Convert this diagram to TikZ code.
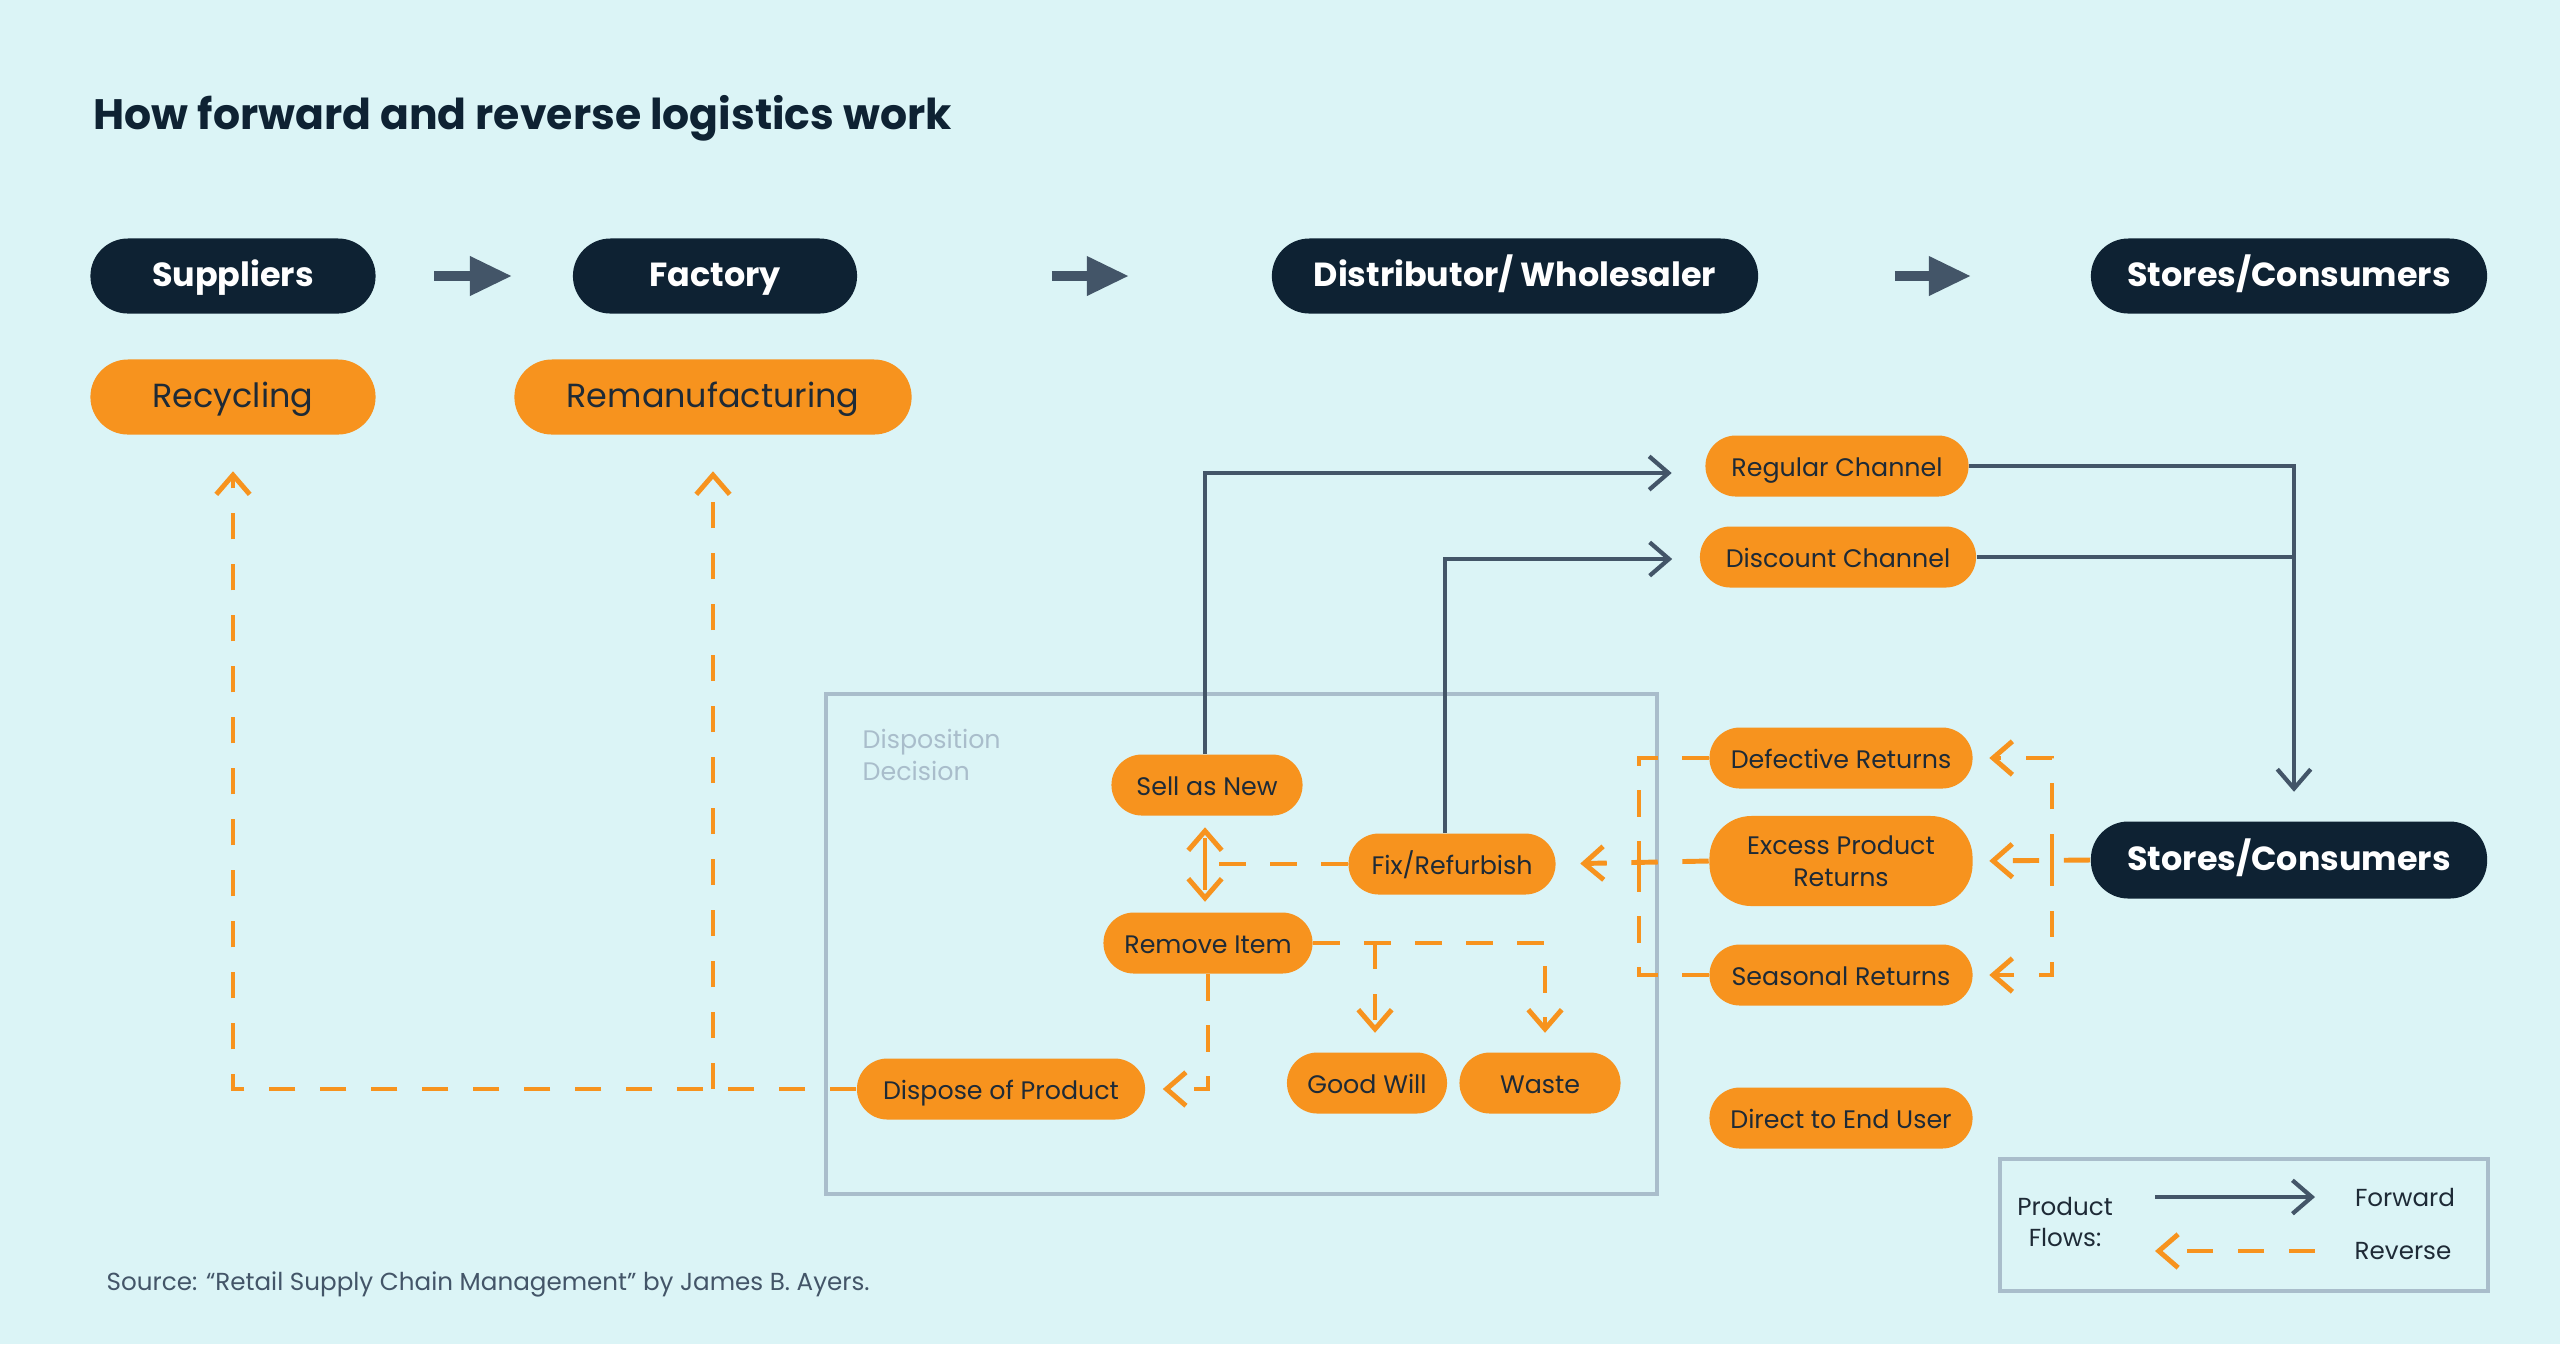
\documentclass[tikz,border=0pt]{standalone}
\usepackage{fontspec}
\setmainfont{Poppins}
\usetikzlibrary{arrows.meta}

\definecolor{Paper}{HTML}{DBF4F6}
\definecolor{Navy}{HTML}{0E2233}
\definecolor{Orange}{HTML}{F7931E}
\definecolor{Ink}{HTML}{1E2A36}
\definecolor{Slate}{HTML}{435568}
\definecolor{Frame}{HTML}{A9BDCB}

\tikzstyle{Head} = [fill=Navy, text=white,
                    rectangle, rounded corners=0.375cm,
                    minimum height=0.75cm, inner sep=0pt,
                    text height=0.75em, text depth=0.15em,
                    font=\fontsize{9.5}{11}\selectfont\bfseries]
\tikzstyle{Big} = [fill=Orange, text=Ink,
                   rectangle, rounded corners=0.375cm,
                   minimum height=0.75cm, inner sep=0pt,
                   text height=0.75em, text depth=0.15em,
                   font=\fontsize{9.5}{11}\selectfont]
\tikzstyle{Tag} = [fill=Orange, text=Ink,
                   rectangle, rounded corners=0.305cm,
                   minimum height=0.61cm, inner sep=0pt,
                   font=\fontsize{7.2}{9}\selectfont]
\tikzstyle{Pill} = [Tag, text height=0.75em, text depth=0.15em]
\tikzstyle{Flow} = [draw=Slate, line width=1.2pt]
\tikzstyle{Fwd} = [Flow, -{Straight Barb[length=5.5pt,width=9.5pt]}]
\tikzstyle{Rev} = [draw=Orange, line width=1.4pt, dash pattern=on 7.5pt off 7pt]
\tikzstyle{RevArrow} = [Rev, -{Straight Barb[length=5.5pt,width=9.5pt]}]
\tikzstyle{BigArrow} = [draw=Slate, line width=2.8pt,
                        -{Triangle[length=12pt,width=10.5pt]}]

\begin{document}
\begin{tikzpicture}[x=0.01cm, y=-0.01cm]

    \fill[Paper] (0, 0) rectangle (2560, 1344);
    \useasboundingbox (0, 0) rectangle (2560, 1344);

    \node(title) at (93, 129) [anchor=base west, inner sep=0pt, text=Navy,
        font=\fontsize{12.1}{14}\selectfont\bfseries]{How forward and reverse logistics work};

    % Forward chain
    \node (suppliers) at (233, 276) [Head, minimum width=2.85cm]{Suppliers};
    \node (factory) at (715, 276) [Head, minimum width=2.84cm]{Factory};
    \node (distributor) at (1515, 276) [Head, minimum width=4.86cm]{Distributor/ Wholesaler};
    \node (storesTop) at (2289, 276) [Head, minimum width=3.96cm]{Stores/Consumers};

    \node (recycling) at (233, 397) [Big, minimum width=2.85cm]{Recycling};
    \node (reman) at (713, 397) [Big, minimum width=3.97cm]{Remanufacturing};

    % Channels
    \node (regular) at (1837, 466) [Pill, minimum width=2.63cm]{Regular Channel};
    \node (discount) at (1838, 557) [Pill, minimum width=2.76cm]{Discount Channel};

    % Disposition decision
    \draw[Frame, line width=0.9pt] (826, 694) rectangle (1657, 1194);
    \node(dispLabel) at (862, 729) [anchor=north west, inner sep=0pt, align=left, text=Frame,
        font=\fontsize{7.2}{9}\selectfont]{Disposition\\Decision};
    \node (sellnew) at (1207, 785) [Pill, minimum width=1.91cm]{Sell as New};
    \node (fix) at (1452, 864) [Pill, minimum width=2.07cm]{Fix/Refurbish};
    \node (remove) at (1208, 943) [Pill, minimum width=2.09cm]{Remove Item};
    \node (dispose) at (1001, 1089) [Pill, minimum width=2.88cm]{Dispose of Product};
    \node (goodwill) at (1367, 1083) [Pill, minimum width=1.60cm]{Good Will};
    \node (waste) at (1540, 1083) [Pill, minimum width=1.61cm]{Waste};

    % Returns
    \node (defective) at (1841, 758) [Pill, minimum width=2.63cm]{Defective Returns};
    \node (excess) at (1841, 861) [Tag, minimum width=2.63cm, minimum height=0.9cm,
        rounded corners=0.42cm, align=center]{Excess Product\\Returns};
    \node (seasonal) at (1841, 975) [Pill, minimum width=2.63cm]{Seasonal Returns};
    \node (direct) at (1841, 1118) [Pill, minimum width=2.63cm]{Direct to End User};
    \node (stores) at (2289, 860) [Head, minimum width=3.96cm, minimum height=0.77cm]{Stores/Consumers};

    % Junctions
    \coordinate (rightJoin) at (2052, 860);
    \coordinate (leftJoin) at (1639, 864);
    \coordinate (sellJoin) at (1205, 864);

    % Top arrows
    \draw [BigArrow, shorten <=0.58cm, shorten >=0.60cm] (suppliers) -- (factory);
    \draw [BigArrow, shorten <=1.94cm, shorten >=1.42cm] (factory) -- (distributor);
    \draw [BigArrow, shorten <=1.36cm, shorten >=1.19cm] (distributor) -- (storesTop);

    % Forward flows
    \draw [Fwd, shorten >=0.33cm] ([xshift=-0.02cm]sellnew.north) |- ([yshift=-0.07cm]regular.west);
    \draw [Fwd, shorten >=0.27cm] ([xshift=-0.07cm]fix.north) |- ([yshift=-0.02cm]discount.west);
    \draw [Fwd, shorten >=0.29cm] (regular.east) -| ([xshift=0.05cm]stores.north);
    \draw [Flow] (discount.east) -- ([xshift=0.05cm]discount.east -| stores.north);

    % Reverse flows
    \draw [RevArrow, shorten >=0.16cm] (stores.west) -- (excess.east);
    \draw [RevArrow, shorten >=0.16cm] (rightJoin) |- (defective.east);
    \draw [RevArrow, shorten >=0.16cm] (rightJoin) |- (seasonal.east);

    \draw [Rev] (defective.west) -| (leftJoin);
    \draw [Rev] (seasonal.west) -| (leftJoin);
    \draw [RevArrow, shorten >=0.24cm] (excess.west) -- (fix.east);

    \draw [Rev] (fix.west) -- (sellJoin);
    \draw [RevArrow, shorten >=0.11cm] (sellJoin) -- (sellJoin |- sellnew.south);
    \draw [RevArrow, shorten >=0.10cm] (sellJoin) -- (sellJoin |- remove.north);

    \draw [RevArrow, shorten >=0.19cm] (remove.east) -| ([xshift=0.05cm]waste.north);
    \draw [RevArrow, shorten >=0.19cm] ([xshift=0.08cm]goodwill.north |- remove.east) -- ([xshift=0.08cm]goodwill.north);
    \draw [RevArrow, shorten >=0.17cm] (remove.south) |- (dispose.east);

    \draw [RevArrow, shorten >=0.36cm] (dispose.west) -| (recycling.south);
    \draw [RevArrow, shorten >=0.36cm] (reman.south |- dispose.west) -- (reman.south);

    % Legend
    \draw[Frame, line width=0.9pt] (2000, 1159) rectangle (2488, 1291);
    \node(flows) at (2065, 1222) [align=center, text=Ink, font=\fontsize{7}{8.6}\selectfont]{Product\\Flows:};
    \coordinate (fwdA) at (2155, 1197);
    \coordinate (fwdB) at (2315, 1197);
    \coordinate (revA) at (2315, 1251);
    \coordinate (revB) at (2155, 1251);
    \draw [Fwd] (fwdA) -- (fwdB);
    \draw [RevArrow] (revA) -- (revB);
    \node(fwdText) at (2405, 1197) [text=Ink, font=\fontsize{7}{8.6}\selectfont]{Forward};
    \node(revText) at (2403, 1251) [text=Ink, font=\fontsize{7}{8.6}\selectfont]{Reverse};

    % Source
    \node(source) at (106, 1290) [anchor=base west, inner sep=0pt, text=Slate,
        font=\fontsize{7}{8.6}\selectfont]{Source: “Retail Supply Chain Management” by James B. Ayers.};

\end{tikzpicture}
\end{document}
